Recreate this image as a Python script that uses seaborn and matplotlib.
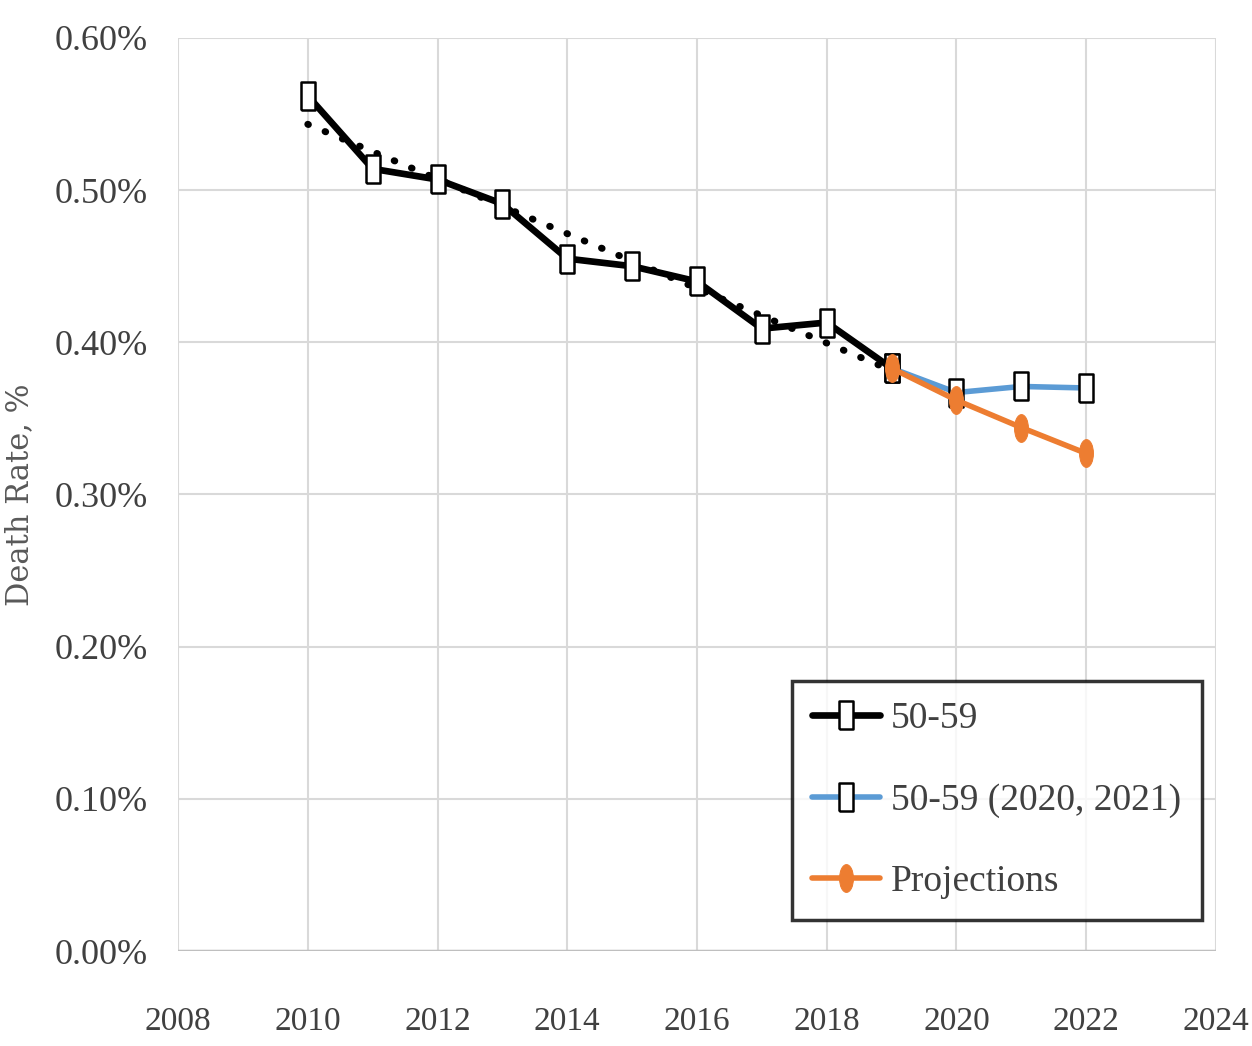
import pandas as pd
import matplotlib
matplotlib.use('Agg')
import matplotlib.pyplot as plt
import seaborn as sns
from matplotlib.path import Path
from matplotlib.transforms import Affine2D
from matplotlib.ticker import FuncFormatter, MultipleLocator

# death rate, age group 50-59 (values in %)
years = [2010, 2011, 2012, 2013, 2014, 2015, 2016, 2017, 2018, 2019]
rate_5059 = [0.562, 0.514, 0.507, 0.491, 0.455, 0.450, 0.440, 0.409, 0.413, 0.383]

years_covid = [2019, 2020, 2021, 2022]
rate_covid = [0.383, 0.367, 0.371, 0.370]

years_proj = [2019, 2020, 2021, 2022]
rate_proj = [0.383, 0.362, 0.344, 0.327]

sns.set_style('white')
plt.rcParams['font.family'] = ['Liberation Serif', 'DejaVu Serif']

df = pd.DataFrame({'year': years, 'rate': rate_5059})
dc = pd.DataFrame({'year': years_covid, 'rate': rate_covid})
dp = pd.DataFrame({'year': years_proj, 'rate': rate_proj})

# tall markers, the source picture is squeezed sideways
box = [(-0.5, -1), (0.5, -1), (0.5, 1), (-0.5, 1), (-0.5, -1)]
oval = Path.unit_circle().transformed(Affine2D().scale(0.5, 1))

fig = plt.figure(figsize=(12.52, 10.46), dpi=100)
ax = fig.add_axes([0.1422, 0.0908, 0.829, 0.8729])

# dotted linear trend
sns.regplot(x='year', y='rate', data=df, ax=ax, ci=None, scatter=False, truncate=True,
            line_kws=dict(color='black', lw=5, ls=(0, (0.1, 2.6)), dash_capstyle='round', zorder=2))

sns.lineplot(x='year', y='rate', data=df, ax=ax, color='black', lw=4.8, marker=box,
             markersize=20, markerfacecolor='white', markeredgecolor='black', markeredgewidth=1.8,
             label='50-59', zorder=3)
sns.lineplot(x='year', y='rate', data=dc, ax=ax, color='#5B9BD5', lw=4, marker=box,
             markersize=20, markerfacecolor='white', markeredgecolor='black', markeredgewidth=1.8,
             label='50-59 (2020, 2021)', zorder=3)
sns.lineplot(x='year', y='rate', data=dp, ax=ax, color='#ED7D31', lw=4, marker=oval,
             markersize=20, markerfacecolor='#ED7D31', markeredgecolor='#ED7D31',
             label='Projections', zorder=4)

ax.set_xlim(2008, 2024)
ax.set_ylim(0, 0.6)
ax.xaxis.set_major_locator(MultipleLocator(2))
ax.yaxis.set_major_locator(MultipleLocator(0.1))
ax.yaxis.set_major_formatter(FuncFormatter(lambda v, p: f'{v:.2f}%'))
ax.grid(True, color='#d9d9d9', lw=1.5)
ax.set_axisbelow(True)
for s in ax.spines.values():
    s.set_visible(False)
ax.axhline(0, color='#bfbfbf', lw=2.5, zorder=1)
ax.tick_params(axis='both', length=0, labelcolor='#404040')
ax.tick_params(axis='x', pad=40, labelsize=24)
ax.tick_params(axis='y', pad=22, labelsize=26)

ax.set_xlabel('')
ax.set_ylabel('Death Rate, %', fontsize=22, color='#595959', labelpad=14,
              family=['DejaVu Serif'])

leg = ax.legend(loc='lower right', bbox_to_anchor=(0.9865, 0.034), borderaxespad=0,
                fontsize=27, frameon=True, fancybox=False, handlelength=1.8,
                handletextpad=0.3, labelspacing=1.25, borderpad=0.55)
leg.get_frame().set_edgecolor('black')
leg.get_frame().set_linewidth(2.5)
for t in leg.get_texts():
    t.set_color('#404040')

fig.savefig('out.png', dpi=100)
